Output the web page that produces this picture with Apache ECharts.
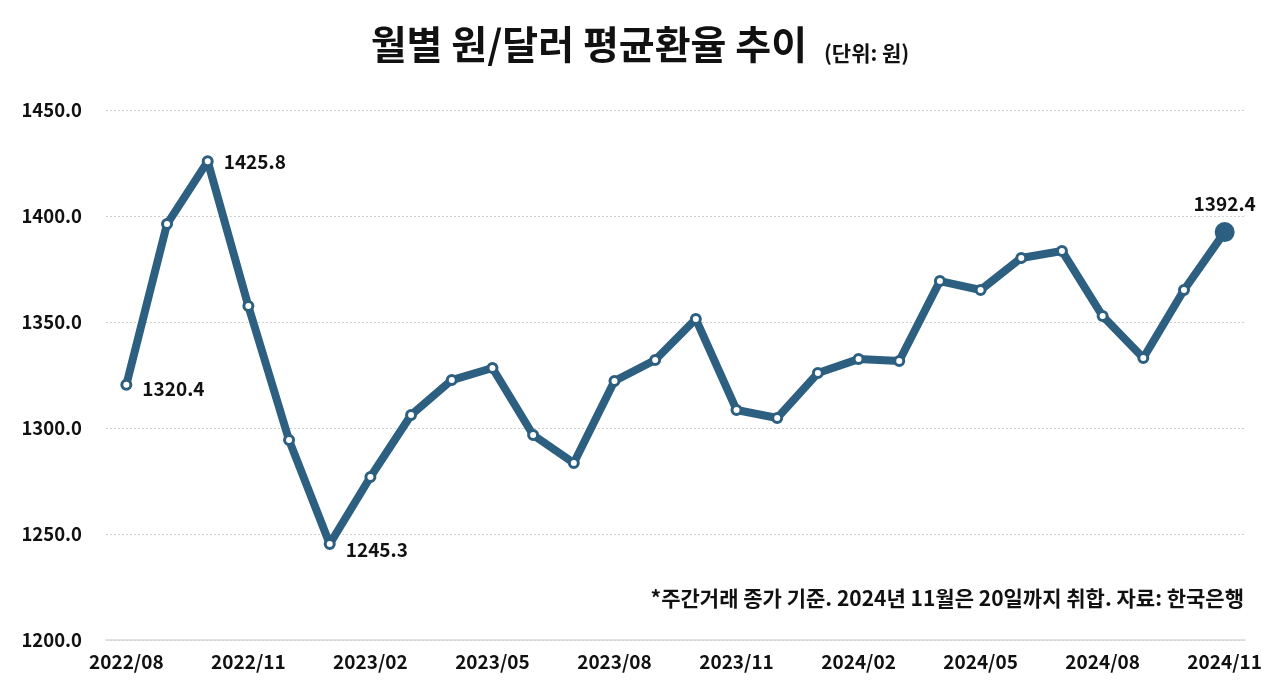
<!DOCTYPE html>
<html><head><meta charset="utf-8">
<script src="https://cdn.jsdelivr.net/npm/echarts@6/dist/echarts.min.js"></script>
<style>html,body{margin:0;padding:0;background:#fff}#c{width:1280px;height:695px}</style>
</head><body><div id="c"></div>
<script>
const months = ['2022/08','2022/09','2022/10','2022/11','2022/12','2023/01','2023/02','2023/03','2023/04','2023/05','2023/06','2023/07','2023/08','2023/09','2023/10','2023/11','2023/12','2024/01','2024/02','2024/03','2024/04','2024/05','2024/06','2024/07','2024/08','2024/09','2024/10','2024/11'];
const rates = [1320.4,1396.2,1425.8,1357.5,1294.3,1245.3,1276.9,1306.1,1322.6,1328.3,1296.7,1283.5,1322.2,1332.1,1351.4,1308.5,1304.7,1325.9,1332.5,1331.6,1369.3,1365.1,1380.2,1383.5,1352.8,1333.0,1365.1,1392.4];
const labeled = {0:'right',2:'right',5:'right',27:'top'};
const yTicks = [1200,1250,1300,1350,1400,1450];

const FONT = '"Noto Sans CJK KR","Noto Sans",sans-serif';
const COLOR = '#2c5f80';
const data = rates.map((v,i)=>{
  const d = {value:v};
  if (i === rates.length-1) {
    d.symbolSize = 17;
    d.itemStyle = {color:COLOR, borderColor:COLOR};
  }
  if (labeled[i] !== undefined) {
    d.label = {show:true, position:labeled[i], formatter:v.toFixed(1), distance: labeled[i]==='top'?9:10,
      offset: i===0?[0,4]:(i===5?[0,6]:[0,0])};
  }
  return d;
});

const chart = echarts.init(document.getElementById('c'));
chart.setOption({
  animation:false,
  title:{
    text:'월별 원/달러 평균환율 추이 {s|(단위: 원)}',
    left:'center', top:20,
    textStyle:{fontFamily:FONT, fontSize:39, fontWeight:'bold', color:'#111',
      rich:{s:{fontFamily:FONT, fontSize:21, fontWeight:'bold', color:'#111', verticalAlign:'bottom', padding:[12,0,0,8]}}}
  },
  graphic:[{
    type:'text', right:36, top:588,
    style:{text:'*주간거래 종가 기준. 2024년 11월은 20일까지 취합. 자료: 한국은행', font:'bold 21px '+FONT, fill:'#111'}
  }],
  grid:{left:106, right:35, top:110, bottom:55},
  xAxis:{
    type:'category', data:months, boundaryGap:true,
    axisLine:{show:true, lineStyle:{color:'#d9d9d9', width:1.5}},
    axisTick:{show:false},
    axisLabel:{interval:2, color:'#111', fontFamily:FONT, fontWeight:'bold', fontSize:19, margin:12}
  },
  yAxis:{
    type:'value', min:yTicks[0], max:yTicks[yTicks.length-1], interval:50,
    axisLine:{show:false}, axisTick:{show:false},
    splitLine:{lineStyle:{color:'#cfcfcf', type:[2,2], width:1}},
    axisLabel:{color:'#111', fontFamily:FONT, fontWeight:'bold', fontSize:18.5, margin:24,
      formatter:v=>v.toFixed(1)}
  },
  series:[{
    type:'line', data:data,
    lineStyle:{color:COLOR, width:8},
    symbol:'circle', symbolSize:9,
    itemStyle:{color:'#fff', borderColor:COLOR, borderWidth:3},
    label:{color:'#111', fontFamily:FONT, fontWeight:'bold', fontSize:19},
    z:3
  }]
});
</script></body></html>
